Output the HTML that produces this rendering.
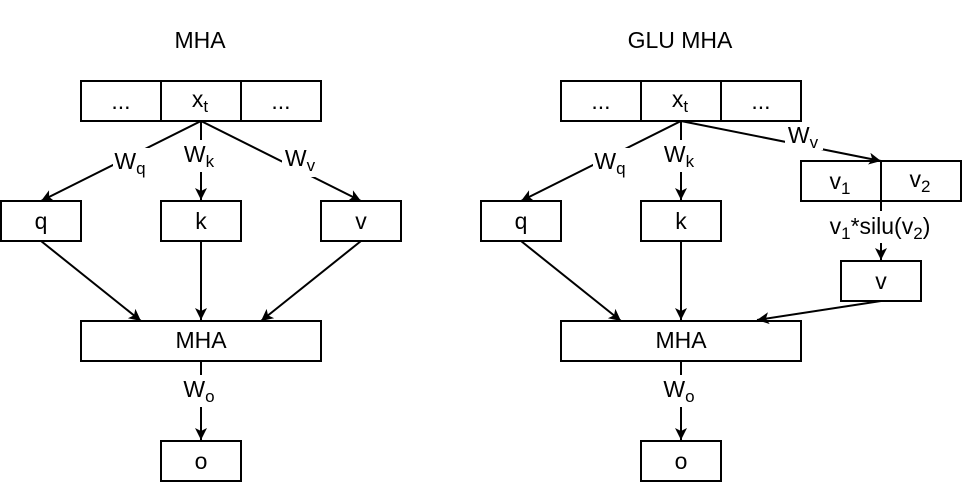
<!DOCTYPE html>
<html><head><meta charset="utf-8"><style>body{margin:0;background:#fff}svg{display:block}text{font-family:"Liberation Sans",sans-serif;font-size:23px;fill:#000}</style></head><body>
<svg width="964" height="482" viewBox="0 0 964 482">
<defs><marker id="a" markerWidth="14" markerHeight="14" refX="12" refY="6" orient="auto" markerUnits="userSpaceOnUse"><path d="M0,0 L12,6 L0,12 L3,6 Z" fill="#000"/></marker></defs>
<g fill="none" stroke="#000" stroke-width="2">
<rect x="81" y="81" width="240" height="40"/><line x1="161" y1="81" x2="161" y2="121"/><line x1="241" y1="81" x2="241" y2="121"/>
<rect x="1" y="201" width="80" height="40"/><rect x="161" y="201" width="80" height="40"/><rect x="321" y="201" width="80" height="40"/>
<rect x="81" y="321" width="240" height="40"/><rect x="161" y="441" width="80" height="40"/>
<line x1="201" y1="121" x2="41" y2="201" marker-end="url(#a)"/>
<line x1="201" y1="121" x2="201" y2="200" marker-end="url(#a)"/>
<line x1="201" y1="121" x2="361" y2="201" marker-end="url(#a)"/>
<line x1="41" y1="241" x2="141" y2="321" marker-end="url(#a)"/>
<line x1="201" y1="241" x2="201" y2="320" marker-end="url(#a)"/>
<line x1="361" y1="241" x2="261" y2="321" marker-end="url(#a)"/>
<line x1="201" y1="361" x2="201" y2="440" marker-end="url(#a)"/>
<rect x="561" y="81" width="240" height="40"/><line x1="641" y1="81" x2="641" y2="121"/><line x1="721" y1="81" x2="721" y2="121"/>
<rect x="481" y="201" width="80" height="40"/><rect x="641" y="201" width="80" height="40"/>
<rect x="801" y="161" width="160" height="40"/><line x1="881" y1="161" x2="881" y2="201"/>
<rect x="841" y="261" width="80" height="40"/>
<rect x="561" y="321" width="240" height="40"/><rect x="641" y="441" width="80" height="40"/>
<line x1="681" y1="121" x2="521" y2="201" marker-end="url(#a)"/>
<line x1="681" y1="121" x2="681" y2="200" marker-end="url(#a)"/>
<line x1="681" y1="121" x2="881" y2="161" marker-end="url(#a)"/>
<line x1="881" y1="201" x2="881" y2="260" marker-end="url(#a)"/>
<line x1="521" y1="241" x2="621" y2="321" marker-end="url(#a)"/>
<line x1="681" y1="241" x2="681" y2="320" marker-end="url(#a)"/>
<line x1="881" y1="301" x2="757" y2="320" marker-end="url(#a)"/>
<line x1="681" y1="361" x2="681" y2="440" marker-end="url(#a)"/>
</g>
<g fill="#fff">
<rect x="113" y="148" width="38" height="32"/><rect x="182" y="140" width="38" height="32"/><rect x="282" y="145" width="40" height="32"/><rect x="181" y="375" width="38" height="32"/>
<rect x="593" y="148" width="38" height="32"/><rect x="662" y="140" width="38" height="32"/><rect x="785" y="122" width="38" height="28"/><rect x="828" y="211" width="108" height="32"/><rect x="661" y="375" width="38" height="32"/>
</g>
<g text-anchor="middle">
<text x="200" y="48">MHA</text><text x="680" y="48">GLU MHA</text>
<text x="121" y="109">...</text><text x="200" y="107">x<tspan font-size="17" dy="5">t</tspan></text><text x="281" y="109">...</text>
<text x="601" y="109">...</text><text x="680" y="107">x<tspan font-size="17" dy="5">t</tspan></text><text x="761" y="109">...</text>
<text x="41" y="229">q</text><text x="201" y="229">k</text><text x="361" y="229">v</text>
<text x="521" y="229">q</text><text x="681" y="229">k</text><text x="881" y="289">v</text>
<text x="840" y="189">v<tspan font-size="17" dy="5">1</tspan></text><text x="920" y="187">v<tspan font-size="17" dy="5">2</tspan></text>
<text x="201" y="348">MHA</text><text x="681" y="348">MHA</text>
<text x="201" y="469">o</text><text x="681" y="469">o</text>
<text x="130" y="169">W<tspan font-size="17" dy="5">q</tspan></text>
<text x="199" y="162">W<tspan font-size="17" dy="5">k</tspan></text>
<text x="300" y="166">W<tspan font-size="17" dy="5">v</tspan></text>
<text x="199" y="397">W<tspan font-size="17" dy="5">o</tspan></text>
<text x="610" y="169">W<tspan font-size="17" dy="5">q</tspan></text>
<text x="679" y="162">W<tspan font-size="17" dy="5">k</tspan></text>
<text x="803" y="143">W<tspan font-size="17" dy="5">v</tspan></text>
<text x="679" y="397">W<tspan font-size="17" dy="5">o</tspan></text>
<text x="880" y="234">v<tspan font-size="17" dy="5">1</tspan><tspan dy="-5">*silu(v</tspan><tspan font-size="17" dy="5">2</tspan><tspan dy="-5">)</tspan></text>
</g>
</svg>
</body></html>
